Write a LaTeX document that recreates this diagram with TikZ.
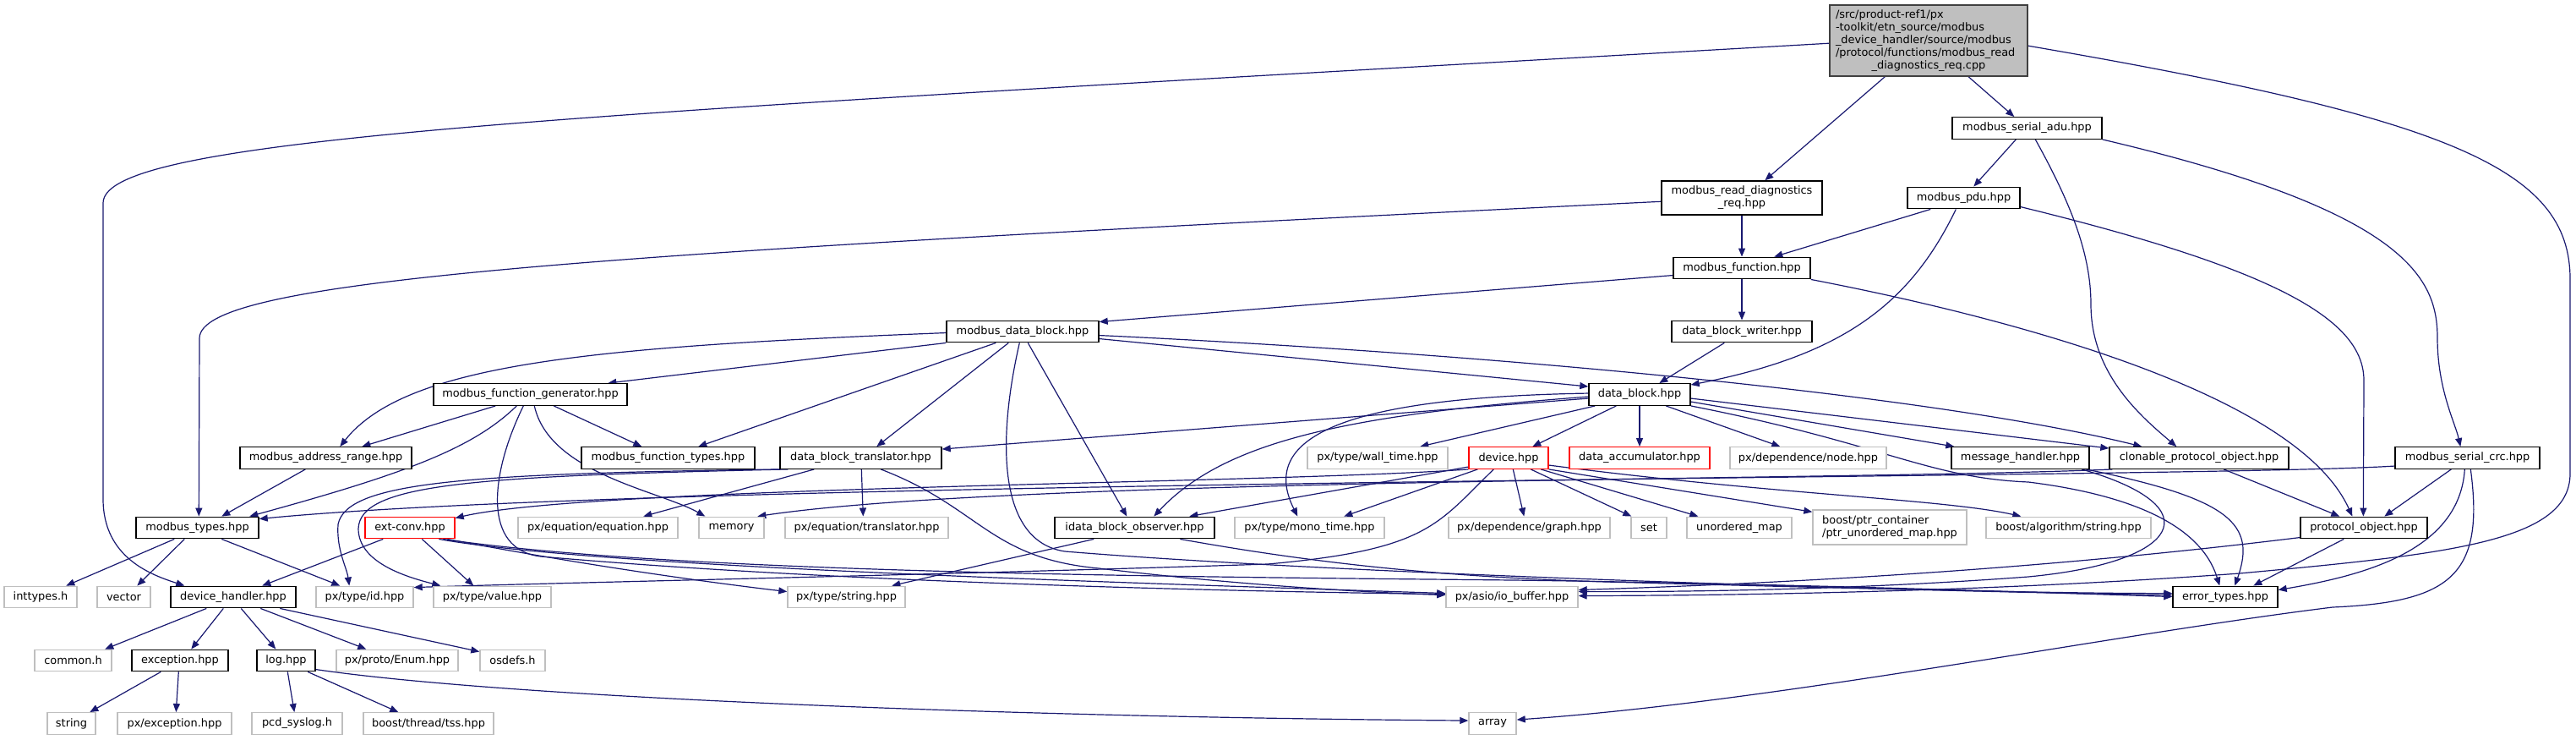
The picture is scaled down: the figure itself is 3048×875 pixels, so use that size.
\documentclass[tikz,border=0pt]{standalone}
\usepackage{fontspec}
\setmainfont{DejaVu Sans}
\usetikzlibrary{arrows.meta,calc}
\definecolor{edgeblue}{HTML}{191970}
\definecolor{greyb}{HTML}{BFBFBF}
\definecolor{mainborder}{HTML}{404040}
\pgfdeclarelayer{background}
\pgfsetlayers{background,main}
\begin{document}
\begin{tikzpicture}[x=1pt,y=-1pt,
  every node/.style={font=\fontsize{12.9}{15}\selectfont, inner sep=0pt, minimum height=25.5pt, align=center},
  doc/.style={draw=black, line width=1.4pt, fill=white},
  ext/.style={draw=greyb, line width=1.4pt, fill=white},
  trunc/.style={draw=red, line width=1.4pt, fill=white},
  mainnode/.style={draw=mainborder, line width=1.6pt, fill=greyb},
  lnk/.style={draw=edgeblue, line width=1.2pt, -{Triangle[length=10pt,width=8pt]}}]
\useasboundingbox (0,0) rectangle (3048,875);
% ---------------- nodes ----------------
\node[mainnode, minimum width=234, minimum height=84, text width=220, align=left] (M) at (2282,48)
 {/src/product-ref1/px\\-toolkit/etn\_source/modbus\\\_device\_handler/source/modbus\\/protocol/functions/modbus\_read\\\makebox[220pt][c]{\_diagnostics\_req.cpp}};
\node[doc, minimum width=177] (adu) at (2398.5,151.5) {modbus\_serial\_adu.hpp};
\node[doc, minimum width=190, minimum height=40] (mrdr) at (2061,234) {modbus\_read\_diagnostics\\\_req.hpp};
\node[doc, minimum width=133] (pdu) at (2323.5,234) {modbus\_pdu.hpp};
\node[doc, minimum width=162] (mf) at (2061,317) {modbus\_function.hpp};
\node[doc, minimum width=166] (dbw) at (2061,392) {data\_block\_writer.hpp};
\node[doc, minimum width=180] (mdb) at (1210,392) {modbus\_data\_block.hpp};
\node[doc, minimum width=229] (gen) at (627.5,466.5) {modbus\_function\_generator.hpp};
\node[doc, minimum width=120] (db) at (1940,466.5) {data\_block.hpp};
% row 6
\node[doc, minimum width=203] (mar) at (385.5,541.5) {modbus\_address\_range.hpp};
\node[doc, minimum width=205] (mft) at (790.5,541.5) {modbus\_function\_types.hpp};
\node[doc, minimum width=191] (dbt) at (1018.5,541.5) {data\_block\_translator.hpp};
\node[ext, minimum width=166] (wall) at (1630,541.5) {px/type/wall\_time.hpp};
\node[trunc, minimum width=94] (dev) at (1785,541.5) {device.hpp};
\node[trunc, minimum width=166] (dacc) at (1940,541.5) {data\_accumulator.hpp};
\node[ext, minimum width=185] (dnode) at (2139.5,541.5) {px/dependence/node.hpp};
\node[doc, minimum width=163] (mh) at (2390.5,541.5) {message\_handler.hpp};
\node[doc, minimum width=212] (cpo) at (2602,541.5) {clonable\_protocol\_object.hpp};
\node[doc, minimum width=171] (crc) at (2919.5,541.5) {modbus\_serial\_crc.hpp};
% row 7
\node[doc, minimum width=145] (mt) at (233.5,624) {modbus\_types.hpp};
\node[trunc, minimum width=106] (ec) at (485,624) {ext-conv.hpp};
\node[ext, minimum width=189] (eq) at (707.5,624) {px/equation/equation.hpp};
\node[ext, minimum width=77] (mem) at (865.5,624) {memory};
\node[ext, minimum width=193] (eqt) at (1025.5,624) {px/equation/translator.hpp};
\node[doc, minimum width=189] (idbo) at (1342.5,624) {idata\_block\_observer.hpp};
\node[ext, minimum width=177] (mono) at (1549.5,624) {px/type/mono\_time.hpp};
\node[ext, minimum width=191] (graph) at (1809.5,624) {px/dependence/graph.hpp};
\node[ext, minimum width=42] (set) at (1951,624) {set};
\node[ext, minimum width=124] (umap) at (2058,624) {unordered\_map};
\node[ext, minimum width=182, minimum height=41, align=left] (ptrmap) at (2236,623.5) {boost/ptr\_container\\/ptr\_unordered\_map.hpp};
\node[ext, minimum width=195] (alg) at (2447.5,624) {boost/algorithm/string.hpp};
\node[doc, minimum width=150] (po) at (2797,624) {protocol\_object.hpp};
% row 8
\node[ext, minimum width=86] (intt) at (48,706) {inttypes.h};
\node[ext, minimum width=63] (vec) at (146.5,706) {vector};
\node[doc, minimum width=148] (dh) at (276,706) {device\_handler.hpp};
\node[ext, minimum width=115] (pxid) at (431.5,706) {px/type/id.hpp};
\node[ext, minimum width=139] (pxval) at (582.5,706) {px/type/value.hpp};
\node[ext, minimum width=139] (pxstr) at (1001.5,706) {px/type/string.hpp};
\node[ext, minimum width=156] (iob) at (1789,706) {px/asio/io\_buffer.hpp};
\node[doc, minimum width=124] (et) at (2633,706) {error\_types.hpp};
% row 9
\node[ext, minimum width=91] (common) at (86.5,781) {common.h};
\node[doc, minimum width=114] (exc) at (213,781) {exception.hpp};
\node[doc, minimum width=69] (log) at (338.5,781) {log.hpp};
\node[ext, minimum width=144] (enum) at (470,781) {px/proto/Enum.hpp};
\node[ext, minimum width=77] (osd) at (606.5,781) {osdefs.h};
% row 10
\node[ext, minimum width=57] (str) at (84.5,855.5) {string};
\node[ext, minimum width=135] (pxexc) at (206.5,855.5) {px/exception.hpp};
\node[ext, minimum width=107] (sys) at (351.5,855.5) {pcd\_syslog.h};
\node[ext, minimum width=154] (tss) at (507,855.5) {boost/thread/tss.hpp};
\node[ext, minimum width=56] (arr) at (1766,855.5) {array};
% ---------------- edges ----------------
\begin{pgfonlayer}{background}
\fill[white] (0,0) rectangle (3048,875);
% main
\draw[lnk] ($(M.south west)+(66,0)$) -- ($(mrdr.north west)+(123,0)$);
\draw[lnk] ($(M.south west)+(165,0)$) -- ($(adu.north west)+(74,0)$);
\draw[lnk] ($(M.north west)+(0,46)$) .. controls (700,135) and (122,160) .. (122,240) -- (122,590) .. controls (122,660) and (180,680) .. ($(dh.north west)+(17,0)$);
\draw[lnk] ($(M.north east)+(0,49)$) .. controls (2900,140) and (3041,200) .. (3041,330) -- (3041,560) .. controls (3041,640) and (2900,655) .. (2650,678) .. controls (2350,700) and (2050,704) .. ($(iob.north east)+(0,12)$);
% adu
\draw[lnk] ($(adu.south west)+(76,0)$) -- ($(pdu.north west)+(79,0)$);
\draw[lnk] ($(adu.south west)+(99,0)$) .. controls (2450,240) and (2474,300) .. (2474,360) .. controls (2474,440) and (2530,490) .. ($(cpo.north west)+(80,0)$);
\draw[lnk] (adu.south east) .. controls (2850,250) and (2884,330) .. (2884,400) .. controls (2884,460) and (2905,500) .. ($(crc.north west)+(78,0)$);
% pdu
\draw[lnk] ($(pdu.south west)+(28,0)$) -- ($(mf.north west)+(120,0)$);
\draw[lnk] ($(pdu.south west)+(58,0)$) .. controls (2260,360) and (2180,420) .. ($(db.north east)+(0,2)$);
\draw[lnk] ($(pdu.north east)+(0,24)$) .. controls (2700,320) and (2797,380) .. (2797,450) -- ($(po.north west)+(75,0)$);
% mrdr
\draw[lnk] (mrdr.south) -- (mf.north);
\draw[lnk] ($(mrdr.north west)+(0,25)$) .. controls (700,300) and (236,330) .. (236,400) -- ($(mt.north west)+(75,0)$);
% mf
\draw[lnk] (mf.south) -- (dbw.north);
\draw[lnk] ($(mf.north west)+(0,22)$) -- ($(mdb.north east)+(0,2)$);
\draw[lnk] (mf.south east) .. controls (2400,380) and (2720,470) .. ($(po.north west)+(62,0)$);
% dbw
\draw[lnk] ($(dbw.south west)+(63,0)$) -- ($(db.north west)+(84,0)$);
% mdb
\draw[lnk] (mdb.south west) -- ($(gen.north west)+(207,0)$);
\draw[lnk] ($(mdb.north west)+(0,15)$) .. controls (700,410) and (480,430) .. ($(mar.north west)+(119,0)$);
\draw[lnk] ($(mdb.south west)+(59,0)$) -- ($(mft.north west)+(139,0)$);
\draw[lnk] ($(mdb.south west)+(74,0)$) -- ($(dbt.north west)+(115,0)$);
\draw[lnk] ($(mdb.south west)+(97,0)$) -- ($(idbo.north west)+(86,0)$);
\draw[lnk] ($(mdb.north east)+(0,22)$) -- ($(db.north west)+(0,4)$);
\draw[lnk] ($(mdb.north east)+(0,18)$) .. controls (1800,420) and (2300,470) .. ($(cpo.north west)+(39,0)$);
\draw[lnk] ($(mdb.south west)+(87,0)$) .. controls (1180,520) and (1180,640) .. (1260,652) .. controls (1600,680) and (2300,700) .. ($(et.north west)+(0,11)$);
% gen
\draw[lnk] ($(gen.south west)+(74,0)$) -- ($(mar.north west)+(145,0)$);
\draw[lnk] ($(gen.south west)+(99,0)$) .. controls (560,530) and (480,560) .. ($(mt.north west)+(135,0)$);
\draw[lnk] ($(gen.south west)+(143,0)$) -- ($(mft.north west)+(72,0)$);
\draw[lnk] ($(gen.south west)+(120,0)$) .. controls (650,560) and (780,580) .. ($(mem.north west)+(8,0)$);
\draw[lnk] ($(gen.south west)+(107,0)$) .. controls (580,560) and (570,650) .. (640,658) .. controls (1000,690) and (1500,700) .. ($(iob.north west)+(0,10)$);
% mar, mt
\draw[lnk] ($(mar.south west)+(78,0)$) -- ($(mt.north west)+(102,0)$);
\draw[lnk] ($(mt.south west)+(46,0)$) -- ($(intt.north west)+(74,0)$);
\draw[lnk] ($(mt.south west)+(58,0)$) -- ($(vec.north west)+(48,0)$);
\draw[lnk] ($(mt.south west)+(102,0)$) -- ($(pxid.north west)+(29,0)$);
% dbt
\draw[lnk] (dbt.south west) .. controls (550,560) and (410,570) .. (400,620) .. controls (398,650) and (410,670) .. ($(pxid.north west)+(40,0)$);
\draw[lnk] ($(dbt.south west)+(10,0)$) .. controls (560,563) and (426,572) .. (424,625) .. controls (424,665) and (480,682) .. ($(pxval.north west)+(9,0)$);
\draw[lnk] ($(dbt.south west)+(41,0)$) -- ($(eq.north west)+(149,0)$);
\draw[lnk] ($(dbt.south west)+(97,0)$) -- ($(eqt.north west)+(93,0)$);
\draw[lnk] ($(dbt.south west)+(120,0)$) .. controls (1160,600) and (1170,660) .. (1300,672) .. controls (1450,690) and (1600,700) .. ($(iob.north west)+(0,11)$);
% db
\draw[lnk] ($(db.north west)+(0,18)$) -- ($(dbt.north east)+(0,3)$);
\draw[lnk] ($(db.north west)+(0,16)$) .. controls (1600,490) and (1450,520) .. ($(idbo.north west)+(118,0)$);
\draw[lnk] ($(db.north west)+(0,12)$) .. controls (1580,470) and (1490,520) .. ($(mono.north west)+(75,0)$);
\draw[lnk] ($(db.south west)+(8,0)$) -- ($(wall.north west)+(134,0)$);
\draw[lnk] ($(db.south west)+(33,0)$) -- ($(dev.north west)+(76,0)$);
\draw[lnk] (db.south) -- (dacc.north);
\draw[lnk] ($(db.south west)+(92,0)$) -- ($(dnode.north west)+(60,0)$);
\draw[lnk] ($(db.north east)+(0,22)$) -- ($(mh.north west)+(4,0)$);
\draw[lnk] ($(db.north east)+(0,18)$) -- ($(cpo.north west)+(0,2)$);
\draw[lnk] (db.south east) .. controls (2230,525) and (2280,565) .. (2400,570) .. controls (2560,590) and (2610,640) .. ($(et.north west)+(56,0)$);
% device
\draw[lnk] ($(dev.north west)+(0,24)$) -- ($(idbo.north west)+(160,0)$);
\draw[lnk] ($(dev.south west)+(11,0)$) -- ($(mono.north west)+(130,0)$);
\draw[lnk] ($(dev.south west)+(53,0)$) -- ($(graph.north west)+(90,0)$);
\draw[lnk] ($(dev.south west)+(74,0)$) -- ($(set.north west)+(1,0)$);
\draw[lnk] ($(dev.south west)+(86,0)$) -- ($(umap.north west)+(14,0)$);
\draw[lnk] (dev.south east) -- ($(ptrmap.north west)+(0,3)$);
\draw[lnk] ($(dev.north east)+(0,22)$) .. controls (2100,585) and (2300,590) .. ($(alg.north west)+(42,0)$);
\draw[lnk] ($(dev.south west)+(30,0)$) .. controls (1700,620) and (1690,650) .. (1500,667) .. controls (1100,680) and (700,688) .. ($(pxid.north east)+(0,2)$);
\draw[lnk] (dev.south west) .. controls (1500,572) and (700,575) .. ($(ec.north east)+(0,2)$);
% idbo
\draw[lnk] ($(idbo.south west)+(47,0)$) -- ($(pxstr.north west)+(124,0)$);
\draw[lnk] ($(idbo.south west)+(149,0)$) .. controls (1550,665) and (1700,682) .. (1900,688) .. controls (2200,696) and (2450,702) .. ($(et.north west)+(0,9)$);
% message handler
\draw[lnk] ($(mh.south west)+(155,0)$) .. controls (2620,600) and (2580,665) .. (2400,682) .. controls (2200,697) and (2000,700) .. ($(iob.north east)+(0,7)$);
\draw[lnk] ($(mh.south west)+(160,0)$) .. controls (2640,590) and (2670,620) .. ($(et.north west)+(74,0)$);
% clonable
\draw[lnk] ($(cpo.south west)+(136,0)$) -- ($(po.north west)+(47,0)$);
\draw[lnk] ($(cpo.south west)+(4,0)$) .. controls (2200,568) and (1200,565) .. ($(mem.north west)+(70,0)$);
% crc
\draw[lnk] ($(crc.south west)+(67,0)$) -- ($(po.north west)+(100,0)$);
\draw[lnk] ($(crc.south west)+(83,0)$) .. controls (2910,650) and (2800,680) .. ($(et.north east)+(0,5)$);
\draw[lnk] ($(crc.south west)+(90,0)$) .. controls (2940,680) and (2900,712) .. (2760,718) .. controls (2500,750) and (2100,830) .. ($(arr.north east)+(0,9)$);
\draw[lnk] ($(crc.north west)+(0,23)$) .. controls (2600,566) and (800,566) .. ($(mt.north east)+(0,3)$);
% protocol object
\draw[lnk] ($(po.north west)+(0,25)$) .. controls (2400,675) and (2100,690) .. ($(iob.north east)+(0,5)$);
\draw[lnk] ($(po.south west)+(52,0)$) -- ($(et.north west)+(96,0)$);
% ext-conv
\draw[lnk] ($(ec.south west)+(22,0)$) -- ($(dh.north west)+(109,0)$);
\draw[lnk] ($(ec.south west)+(68,0)$) -- ($(pxval.north west)+(48,0)$);
\draw[lnk] ($(ec.south west)+(98,0)$) .. controls (700,670) and (850,690) .. ($(pxstr.north west)+(0,7)$);
\draw[lnk] ($(ec.south west)+(88,0)$) .. controls (700,670) and (1300,688) .. ($(iob.north west)+(0,9)$);
\draw[lnk] ($(ec.south west)+(93,0)$) .. controls (800,678) and (1400,682) .. (1790,686) .. controls (2100,690) and (2400,700) .. ($(et.north west)+(0,13)$);
% device handler
\draw[lnk] ($(dh.south west)+(43,0)$) -- ($(common.north west)+(84,0)$);
\draw[lnk] ($(dh.south west)+(63,0)$) -- ($(exc.north west)+(71,0)$);
\draw[lnk] ($(dh.south west)+(84,0)$) -- ($(log.north west)+(23,0)$);
\draw[lnk] ($(dh.south west)+(107,0)$) -- ($(enum.north west)+(36,0)$);
\draw[lnk] ($(dh.south west)+(130,0)$) -- ($(osd.north west)+(0,3)$);
% exception, log
\draw[lnk] ($(exc.south west)+(35,0)$) -- ($(str.north west)+(51,0)$);
\draw[lnk] ($(exc.south west)+(56,0)$) -- ($(pxexc.north west)+(70,0)$);
\draw[lnk] ($(log.south west)+(37,0)$) -- ($(sys.north west)+(51,0)$);
\draw[lnk] ($(log.south west)+(61,0)$) -- ($(tss.north west)+(42,0)$);
\draw[lnk] ($(log.north east)+(0,24)$) .. controls (600,825) and (1200,848) .. ($(arr.north west)+(0,10)$);
\end{pgfonlayer}
\end{tikzpicture}
\end{document}
